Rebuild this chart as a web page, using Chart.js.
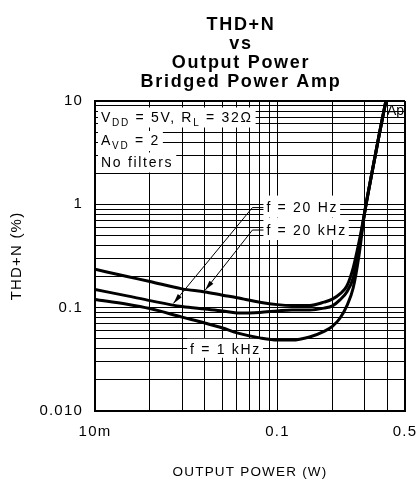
<!DOCTYPE html>
<html lang="en">
<head>
<meta charset="UTF-8" />
<title>THD+N vs Output Power</title>
<script src="https://cdn.jsdelivr.net/npm/chart.js"></script>
<style>
  html, body { margin: 0; padding: 0; background: #fff; }
  canvas { display: block; }
</style>
</head>
<body>
<canvas id="thdChart" width="419" height="482"></canvas>
<script>
// --- data ---
const titleLines = ["THD+N", "vs", "Output Power", "Bridged Power Amp"];

const outputPower = [0.01, 0.015, 0.02, 0.03, 0.04, 0.05, 0.06, 0.08, 0.1, 0.12, 0.15, 0.18, 0.2, 0.22, 0.24, 0.26, 0.28, 0.3, 0.33, 0.36, 0.395];
const thd20kHz = [0.235, 0.2, 0.179, 0.152, 0.142, 0.132, 0.125, 0.113, 0.107, 0.105, 0.105, 0.113, 0.121, 0.136, 0.162, 0.243, 0.434, 0.82, 2.05, 4.6, 10.5];
const thd20Hz = [0.15, 0.13, 0.117, 0.1025, 0.097, 0.093, 0.089, 0.09, 0.093, 0.095, 0.095, 0.099, 0.104, 0.119, 0.142, 0.194, 0.386, 0.82, 2.05, 4.6, 10.5];
const thd1kHz = [0.12, 0.108, 0.098, 0.081, 0.071, 0.0635, 0.057, 0.051, 0.0486, 0.0486, 0.052, 0.059, 0.066, 0.079, 0.104, 0.155, 0.323, 0.82, 2.05, 4.6, 10.5];

const xTickValues = [0.01, 0.02, 0.03, 0.04, 0.05, 0.06, 0.07, 0.08, 0.09, 0.1, 0.2, 0.3, 0.4, 0.5];
const xLabelValues = [0.01, 0.1, 0.5];
const xLabelTexts = ["10m", "0.1", "0.5"];

const yTickValues = [0.01, 0.02, 0.03, 0.04, 0.05, 0.06, 0.07, 0.08, 0.09,
  0.1, 0.2, 0.3, 0.4, 0.5, 0.6, 0.7, 0.8, 0.9,
  1, 2, 3, 4, 5, 6, 7, 8, 9, 10];
const yLabelValues = [0.01, 0.1, 1, 10];
const yLabelTexts = ["0.010", "0.1", "1", "10"];

const conditionLines = [
  [["V", 0], ["DD", 1], [" = 5V, R", 0], ["L", 1], [" = 32\u03A9", 0]],
  [["A", 0], ["VD", 1], [" = 2", 0]],
  [["No filters", 0]],
];

const toPoints = (ys) => outputPower.map((p, i) => ({ x: p, y: ys[i] }));

// --- drawing helpers ---
const FAMILY = '"Liberation Sans", Arial, sans-serif';

function drawSegments(ctx, segs, x, y) {
  let cx = x;
  segs.forEach(([t, sub]) => {
    ctx.font = (sub ? "10px " : "14px ") + FAMILY;
    ctx.fillText(t, cx, sub ? y + 4 : y);
    cx += ctx.measureText(t).width;
  });
  return cx - x;
}

function segWidth(ctx, segs) {
  let w = 0;
  segs.forEach(([t, sub]) => {
    ctx.font = (sub ? "10px " : "14px ") + FAMILY;
    w += ctx.measureText(t).width;
  });
  return w;
}

function arrow(ctx, x0, y0, x1, y1) {
  ctx.beginPath();
  ctx.moveTo(x0, y0);
  ctx.lineTo(x1, y1);
  ctx.stroke();
  const a = Math.atan2(y1 - y0, x1 - x0), len = 10, w = 2.5;
  ctx.beginPath();
  ctx.moveTo(x1, y1);
  ctx.lineTo(x1 - len * Math.cos(a) + w * Math.sin(a), y1 - len * Math.sin(a) - w * Math.cos(a));
  ctx.lineTo(x1 - len * Math.cos(a) - w * Math.sin(a), y1 - len * Math.sin(a) + w * Math.cos(a));
  ctx.closePath();
  ctx.fill();
}

// frequency notes: label left edge / centre in data units, arrow tip in data units
const freqNotes = [
  { text: "f = 20 Hz", x: 0.087, y: 0.93, tip: [0.0269, 0.11] },
  { text: "f = 20 kHz", x: 0.087, y: 0.564, tip: [0.0402, 0.148] },
  { text: "f = 1 kHz", x: 0.0332, y: 0.04 },
];

const notesPlugin = {
  id: "notes",
  beforeDraw(chart) {
    // spaced-out lettering for ticks and axis titles
    chart.ctx.letterSpacing = "1.2px";
  },
  beforeDatasetsDraw(chart) {
    const { ctx, chartArea, scales } = chart;
    ctx.save();
    ctx.letterSpacing = "1.7px";
    ctx.fillStyle = "#000";
    ctx.textBaseline = "alphabetic";
    ctx.textAlign = "left";

    // conditions box, top left
    const left = chartArea.left + 6;
    const baselines = [20.5, 44, 65.5].map((d) => chartArea.top + d);
    conditionLines.forEach((segs, i) => {
      const w = segWidth(ctx, segs);
      ctx.fillStyle = "#fff";
      ctx.fillRect(left - 3, baselines[i] - 14, w + 6, 20);
      ctx.fillStyle = "#000";
      drawSegments(ctx, segs, left, baselines[i]);
    });

    // frequency labels with white backing
    ctx.font = "14px " + FAMILY;
    ctx.textBaseline = "middle";
    freqNotes.forEach((n) => {
      const x = scales.x.getPixelForValue(n.x);
      const y = scales.y.getPixelForValue(n.y);
      const w = ctx.measureText(n.text).width;
      ctx.fillStyle = "#fff";
      if (n.tip) ctx.fillRect(x - 3, y - 12, w + 5, 22);
      else ctx.fillRect(x - 3, y - 10, w + 5, 19);
      ctx.fillStyle = "#000";
      ctx.fillText(n.text, x, y + 1);
    });
    ctx.restore();
  },
  afterDatasetsDraw(chart) {
    const { ctx, chartArea, scales } = chart;
    ctx.save();
    ctx.strokeStyle = "#000";
    ctx.fillStyle = "#000";
    ctx.lineWidth = 1;
    freqNotes.forEach((n) => {
      if (!n.tip) return;
      const x = scales.x.getPixelForValue(n.x);
      const y = scales.y.getPixelForValue(n.y);
      ctx.beginPath();
      ctx.moveTo(x - 3, y);
      ctx.lineTo(x - 14, y);
      ctx.stroke();
      arrow(ctx, x - 14, y, scales.x.getPixelForValue(n.tip[0]), scales.y.getPixelForValue(n.tip[1]));
    });

    // Audio Precision mark
    ctx.letterSpacing = "0px";
    ctx.font = "14px " + FAMILY;
    ctx.textBaseline = "alphabetic";
    ctx.fillText("Ap", chartArea.right - 18, chartArea.top + 14);

    // title
    ctx.letterSpacing = "1.7px";
    ctx.font = "bold 18px " + FAMILY;
    ctx.textAlign = "center";
    titleLines.forEach((t, i) => ctx.fillText(t, 241, 30 + i * 18.9));
    ctx.restore();
  },
  afterDraw(chart) {
    chart.ctx.letterSpacing = "0px";
  },
};

const tickFont = { family: FAMILY, size: 15 };

// keep the plot box fixed: no extra room reserved for overhanging tick labels
function fixBox(s) {
  s.paddingLeft = 0;
  s.paddingRight = 0;
  s.paddingTop = 0;
  s.paddingBottom = 0;
}

new Chart(document.getElementById("thdChart"), {
  type: "line",
  data: {
    datasets: [
      { label: "f = 20 kHz", data: toPoints(thd20kHz) },
      { label: "f = 20 Hz", data: toPoints(thd20Hz) },
      { label: "f = 1 kHz", data: toPoints(thd1kHz) },
    ].map((d) => ({
      ...d,
      borderColor: "#000",
      borderWidth: 3,
      pointRadius: 0,
      cubicInterpolationMode: "monotone",
      borderJoinStyle: "round",
      borderCapStyle: "round",
      fill: false,
    })),
  },
  options: {
    responsive: false,
    animation: false,
    layout: { padding: { top: 101, right: 14, bottom: 0, left: 0 } },
    plugins: { legend: { display: false }, tooltip: { enabled: false }, title: { display: false } },
    scales: {
      x: {
        type: "logarithmic",
        min: 0.01,
        max: 0.5,
        afterBuildTicks: (s) => { s.ticks = xTickValues.map((v) => ({ value: v })); },
        afterFit: (s) => { s.height = 71; fixBox(s); },
        ticks: {
          autoSkip: false, maxRotation: 0, minRotation: 0, padding: 12,
          color: "#000", font: tickFont,
          callback: (v) => { const i = xLabelValues.indexOf(v); return i >= 0 ? xLabelTexts[i] : ""; },
        },
        grid: { color: "#000", drawTicks: false, lineWidth: (c) => (c.tick && c.tick.value === 0.5 ? 2 : 1) },
        border: { display: true, color: "#000", width: 2 },
        title: { display: true, text: "OUTPUT POWER (W)", color: "#000", font: { family: FAMILY, size: 13.5 }, padding: { top: 0, bottom: 2 } },
      },
      y: {
        type: "logarithmic",
        min: 0.01,
        max: 10,
        afterBuildTicks: (s) => { s.ticks = yTickValues.map((v) => ({ value: v })); },
        afterFit: (s) => { s.width = 95; fixBox(s); },
        ticks: {
          autoSkip: false, padding: 12,
          color: "#000", font: tickFont,
          callback: (v) => { const i = yLabelValues.indexOf(v); return i >= 0 ? yLabelTexts[i] : ""; },
        },
        grid: { color: "#000", drawTicks: false, lineWidth: (c) => (c.tick && c.tick.value === 10 ? 2 : 1) },
        border: { display: true, color: "#000", width: 2 },
        title: { display: true, text: "THD+N (%)", color: "#000", font: { family: FAMILY, size: 15 }, padding: { top: 8, bottom: 0 } },
      },
    },
  },
  plugins: [notesPlugin],
});
</script>
</body>
</html>
